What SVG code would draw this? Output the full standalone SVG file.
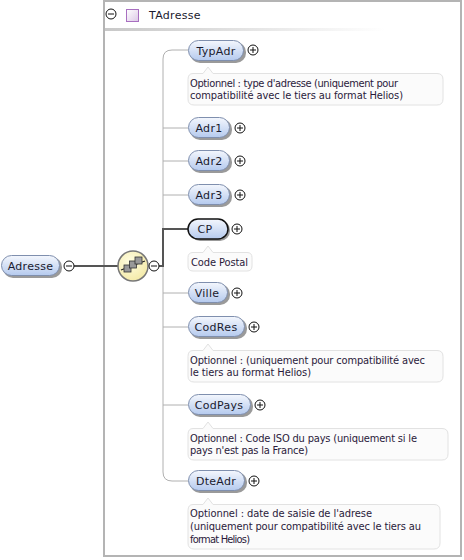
<svg xmlns="http://www.w3.org/2000/svg" width="464" height="560" viewBox="0 0 464 560">
<defs>
<linearGradient id="pill" x1="0" y1="0" x2="0" y2="1">
<stop offset="0" stop-color="#f4f7fd"/>
<stop offset="1" stop-color="#b5caee"/>
</linearGradient>
<linearGradient id="sep" x1="0" y1="0" x2="1" y2="0">
<stop offset="0" stop-color="#c8c8c8"/>
<stop offset="1" stop-color="#ffffff"/>
</linearGradient>
<linearGradient id="sq" x1="0" y1="0" x2="1" y2="1">
<stop offset="0" stop-color="#ffffff"/>
<stop offset="1" stop-color="#dcc8e6"/>
</linearGradient>
<radialGradient id="seqg" cx="0.4" cy="0.35" r="0.7">
<stop offset="0" stop-color="#fffde0"/>
<stop offset="1" stop-color="#f3e9a6"/>
</radialGradient>
</defs>
<style>
.lbl{font-family:"DejaVu Sans",Verdana,sans-serif;font-size:11px;fill:#1a1a2e;letter-spacing:0.3px}
.cmt{font-family:"DejaVu Sans Condensed","DejaVu Sans",sans-serif;font-size:11px;fill:#2a1a3a}
.pill{fill:url(#pill);stroke:#7f8fae;stroke-width:1}
.shadow{fill:#9a9a9a}
.box{fill:#fbfbfb;stroke:#e2e2e2;stroke-width:1}
.pm{fill:#fff;stroke:#111;stroke-width:1}
.pmline{stroke:#111;stroke-width:1}
.conn{fill:none;stroke:#b0b0b0;stroke-width:1}
.bold{fill:none;stroke:#555;stroke-width:2}
</style>

<!-- container -->
<g id="container">
<rect x="104" y="1" width="357" height="555" fill="#fff" stroke="#b4b4b4" stroke-width="2"/>
<circle class="pm" cx="111" cy="14" r="5"/>
<line class="pmline" x1="108" y1="14" x2="114" y2="14"/>
<rect x="126.5" y="9.5" width="12" height="12" fill="url(#sq)" stroke="#a86fc0" stroke-width="1"/>
<text class="lbl" x="149" y="19">TAdresse</text>
<rect x="105" y="28" width="280" height="3" fill="url(#sep)"/>
</g>

<!-- connectors -->
<g id="connectors">
<path class="conn" d="M188,50 H172 Q163,50 163,59 V472 Q163,481 172,481 H188"/>
<line class="conn" x1="163" y1="128" x2="188" y2="128"/>
<line class="conn" x1="163" y1="161" x2="188" y2="161"/>
<line class="conn" x1="163" y1="195" x2="188" y2="195"/>
<line class="conn" x1="163" y1="293" x2="188" y2="293"/>
<line class="conn" x1="163" y1="327" x2="188" y2="327"/>
<line class="conn" x1="163" y1="405" x2="188" y2="405"/>
<line class="bold" x1="74" y1="266" x2="118" y2="266"/>
<path class="bold" d="M159,266 H163 V229 H188"/>
</g>

<!-- Adresse -->
<g id="node-Adresse">
<rect class="shadow" x="3" y="257" width="59" height="21" rx="10"/>
<rect class="pill" x="1.5" y="255.5" width="58" height="20" rx="10"/>
<text class="lbl" x="30.5" y="269.5" text-anchor="middle">Adresse</text>
<circle class="pm" cx="69" cy="266" r="5"/>
<line class="pmline" x1="66" y1="266" x2="72" y2="266"/>
</g>

<!-- sequence -->
<g id="node-sequence">
<circle cx="133" cy="266" r="15" fill="url(#seqg)" stroke="#777" stroke-width="1.5"/>
<line x1="121" y1="270" x2="145" y2="261" stroke="#222" stroke-width="1.2"/>
<rect x="124" y="265" width="7" height="7" fill="#999" stroke="#333" stroke-width="0.8"/>
<rect x="129.5" y="261" width="7" height="7" fill="#999" stroke="#333" stroke-width="0.8"/>
<rect x="135" y="257" width="7" height="7" fill="#999" stroke="#333" stroke-width="0.8"/>
<circle class="pm" cx="154" cy="266" r="5"/>
<line class="pmline" x1="151" y1="266" x2="157" y2="266"/>
</g>

<!-- TypAdr -->
<g id="node-TypAdr">
<rect class="shadow" x="190" y="42" width="56" height="21" rx="10"/>
<rect class="pill" x="188.5" y="40.5" width="55" height="20" rx="10"/>
<text class="lbl" x="216" y="54.5" text-anchor="middle">TypAdr</text>
<circle class="pm" cx="253" cy="50" r="5"/>
<path class="pmline" d="M250,50 H256 M253,47 V53"/>
<path class="box" d="M193,73.5 H203 L208,67 L213,73.5 H437 Q443,73.5 443,79.5 V99 Q443,105 437,105 H194 Q188,105 188,99 V79.5 Q188,73.5 193,73.5 Z"/>
<text class="cmt" x="190" y="86.5" textLength="208" lengthAdjust="spacing">Optionnel : type d'adresse (uniquement pour</text>
<text class="cmt" x="190" y="99" textLength="213" lengthAdjust="spacing">compatibilité avec le tiers au format Helios)</text>
</g>

<g id="node-Adr1">
<rect class="shadow" x="190" y="119" width="42" height="21" rx="10"/>
<rect class="pill" x="188.5" y="117.5" width="41" height="20" rx="10"/>
<text class="lbl" x="209" y="131.5" text-anchor="middle">Adr1</text>
<circle class="pm" cx="240" cy="128" r="5"/>
<path class="pmline" d="M237,128 H243 M240,125 V131"/>
</g>

<g id="node-Adr2">
<rect class="shadow" x="190" y="152" width="42" height="21" rx="10"/>
<rect class="pill" x="188.5" y="150.5" width="41" height="20" rx="10"/>
<text class="lbl" x="209" y="164.5" text-anchor="middle">Adr2</text>
<circle class="pm" cx="240" cy="161" r="5"/>
<path class="pmline" d="M237,161 H243 M240,158 V164"/>
</g>

<g id="node-Adr3">
<rect class="shadow" x="190" y="186" width="42" height="21" rx="10"/>
<rect class="pill" x="188.5" y="184.5" width="41" height="20" rx="10"/>
<text class="lbl" x="209" y="198.5" text-anchor="middle">Adr3</text>
<circle class="pm" cx="240" cy="195" r="5"/>
<path class="pmline" d="M237,195 H243 M240,192 V198"/>
</g>

<g id="node-CP">
<rect class="shadow" x="190" y="220" width="40" height="21" rx="10"/>
<rect x="188" y="219" width="40" height="20" rx="10" fill="url(#pill)" stroke="#111" stroke-width="1.5"/>
<text class="lbl" x="205" y="233" text-anchor="middle">CP</text>
<circle class="pm" cx="237" cy="229" r="5"/>
<path class="pmline" d="M234,229 H240 M237,226 V232"/>
<path class="box" d="M193,252.5 H203 L208,246 L213,252.5 H247 Q252,252.5 252,257.5 V266 Q252,271 247,271 H193 Q188,271 188,266 V257.5 Q188,252.5 193,252.5 Z"/>
<text class="cmt" x="191" y="265.5" textLength="57" lengthAdjust="spacing">Code Postal</text>
</g>

<g id="node-Ville">
<rect class="shadow" x="190" y="284" width="40" height="21" rx="10"/>
<rect class="pill" x="188.5" y="282.5" width="39" height="20" rx="10"/>
<text class="lbl" x="207" y="296.5" text-anchor="middle">Ville</text>
<circle class="pm" cx="237" cy="293" r="5"/>
<path class="pmline" d="M234,293 H240 M237,290 V296"/>
</g>

<g id="node-CodRes">
<rect class="shadow" x="190" y="318" width="57" height="21" rx="10"/>
<rect class="pill" x="188.5" y="316.5" width="56" height="20" rx="10"/>
<text class="lbl" x="216" y="330.5" text-anchor="middle">CodRes</text>
<circle class="pm" cx="254" cy="327" r="5"/>
<path class="pmline" d="M251,327 H257 M254,324 V330"/>
<path class="box" d="M193,350.5 H203 L208,344 L213,350.5 H437 Q443,350.5 443,356.5 V376 Q443,382 437,382 H194 Q188,382 188,376 V356.5 Q188,350.5 193,350.5 Z"/>
<text class="cmt" x="190" y="363.5" textLength="235" lengthAdjust="spacing">Optionnel : (uniquement pour compatibilité avec</text>
<text class="cmt" x="190" y="376" textLength="121" lengthAdjust="spacing">le tiers au format Helios)</text>
</g>

<g id="node-CodPays">
<rect class="shadow" x="190" y="396" width="63" height="21" rx="10"/>
<rect class="pill" x="188.5" y="394.5" width="62" height="20" rx="10"/>
<text class="lbl" x="219" y="408.5" text-anchor="middle">CodPays</text>
<circle class="pm" cx="260" cy="405" r="5"/>
<path class="pmline" d="M257,405 H263 M260,402 V408"/>
<path class="box" d="M193,428.5 H203 L208,422 L213,428.5 H442 Q448,428.5 448,434.5 V454 Q448,460 442,460 H194 Q188,460 188,454 V434.5 Q188,428.5 193,428.5 Z"/>
<text class="cmt" x="190" y="441.5" textLength="227" lengthAdjust="spacing">Optionnel : Code ISO du pays (uniquement si le</text>
<text class="cmt" x="190" y="454" textLength="118" lengthAdjust="spacing">pays n'est pas la France)</text>
</g>

<g id="node-DteAdr">
<rect class="shadow" x="190" y="472" width="57" height="21" rx="10"/>
<rect class="pill" x="188.5" y="470.5" width="56" height="20" rx="10"/>
<text class="lbl" x="216" y="484.5" text-anchor="middle">DteAdr</text>
<circle class="pm" cx="254" cy="481" r="5"/>
<path class="pmline" d="M251,481 H257 M254,478 V484"/>
<path class="box" d="M193,504.5 H203 L208,498 L213,504.5 H434 Q440,504.5 440,510.5 V543 Q440,549 434,549 H194 Q188,549 188,543 V510.5 Q188,504.5 193,504.5 Z"/>
<text class="cmt" x="190" y="517" textLength="182" lengthAdjust="spacing">Optionnel : date de saisie de l'adrese</text>
<text class="cmt" x="190" y="530" textLength="231" lengthAdjust="spacing">(uniquement pour compatibilité avec le tiers au</text>
<text class="cmt" x="190" y="543" textLength="60" lengthAdjust="spacing">format Helios)</text>
</g>
</svg>
